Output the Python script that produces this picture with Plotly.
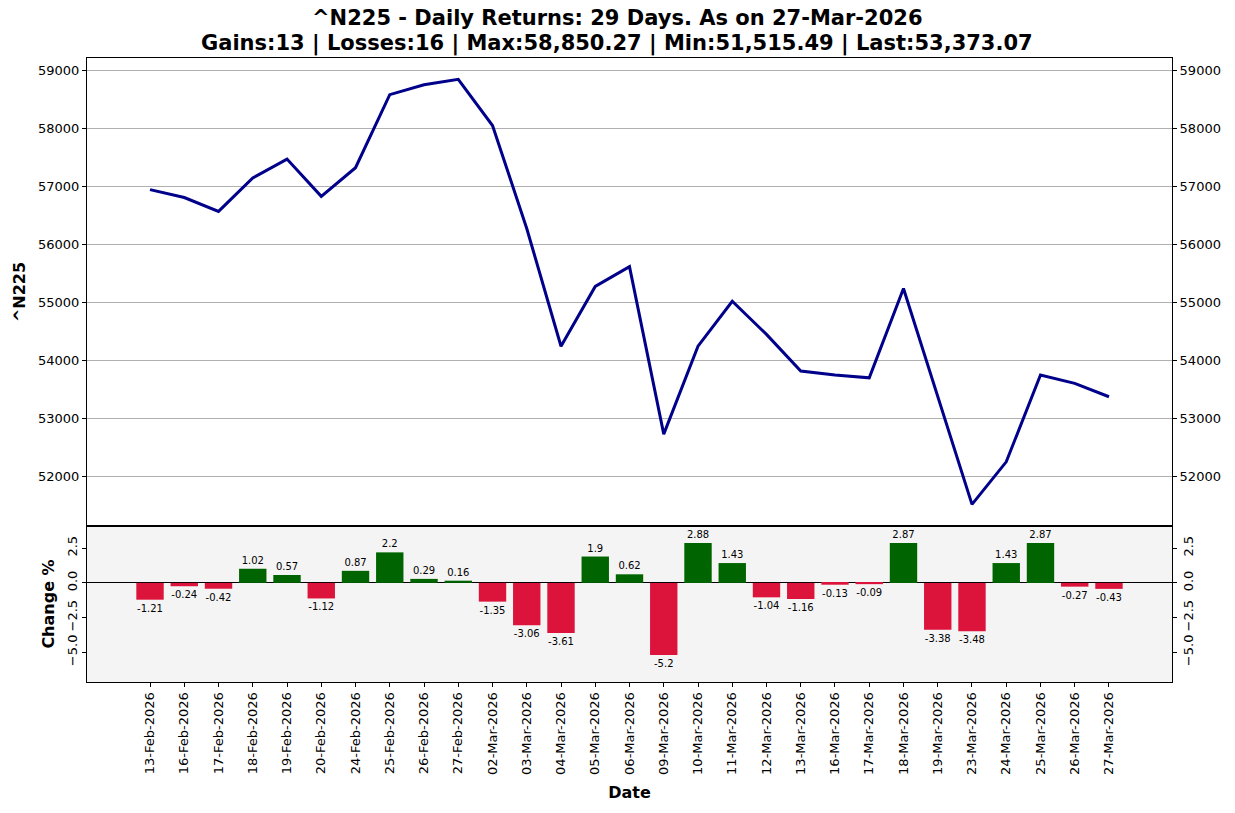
import plotly.graph_objects as go

dates = ["13-Feb-2026", "16-Feb-2026", "17-Feb-2026", "18-Feb-2026", "19-Feb-2026",
         "20-Feb-2026", "24-Feb-2026", "25-Feb-2026", "26-Feb-2026", "27-Feb-2026",
         "02-Mar-2026", "03-Mar-2026", "04-Mar-2026", "05-Mar-2026", "06-Mar-2026",
         "09-Mar-2026", "10-Mar-2026", "11-Mar-2026", "12-Mar-2026", "13-Mar-2026",
         "16-Mar-2026", "17-Mar-2026", "18-Mar-2026", "19-Mar-2026", "23-Mar-2026",
         "24-Mar-2026", "25-Mar-2026", "26-Mar-2026", "27-Mar-2026"]

close = [56947.2, 56810.5, 56571.9, 57148.9, 57474.6,
         56830.9, 57325.3, 58586.4, 58756.3, 58850.27,
         58053.3, 56277.0, 54245.0, 55276.0, 55619.0,
         52727.0, 54245.0, 55021.0, 54449.0, 53817.0,
         53747.0, 53699.0, 55240.0, 53373.0, 51515.49,
         52249.1, 53748.7, 53603.6, 53373.07]

change = [-1.21, -0.24, -0.42, 1.02, 0.57,
          -1.12, 0.87, 2.2, 0.29, 0.16,
          -1.35, -3.06, -3.61, 1.9, 0.62,
          -5.2, 2.88, 1.43, -1.04, -1.16,
          -0.13, -0.09, 2.87, -3.38, -3.48,
          1.43, 2.87, -0.27, -0.43]

title_lines = ["^N225 - Daily Returns: 29 Days. As on 27-Mar-2026",
               "Gains:13 | Losses:16 | Max:58,850.27 | Min:51,515.49 | Last:53,373.07"]

FONT = "DejaVu Sans"
bar_colors = ["#006400" if v >= 0 else "#DC143C" for v in change]

fig = go.Figure()

# price line (top panel)
fig.add_trace(go.Scatter(x=dates, y=close, mode="lines", xaxis="x2", yaxis="y",
                         line=dict(color="#00008B", width=3), showlegend=False))
# invisible copy so the right-hand axis is drawn
fig.add_trace(go.Scatter(x=dates, y=close, mode="lines", xaxis="x2", yaxis="y3",
                         opacity=0, hoverinfo="skip", showlegend=False))

# daily change bars (bottom panel)
fig.add_trace(go.Bar(x=dates, y=change, xaxis="x", yaxis="y2", width=0.8,
                     marker=dict(color=bar_colors, line=dict(width=0)),
                     text=[f"{v:g}" for v in change], textposition="outside",
                     textfont=dict(family=FONT, size=10, color="black"),
                     constraintext="none", cliponaxis=False, showlegend=False))
fig.add_trace(go.Bar(x=dates, y=change, xaxis="x", yaxis="y4", width=0.8,
                     opacity=0, hoverinfo="skip", showlegend=False))

tick_font = dict(family=FONT, size=13, color="black")
title_font = dict(family=FONT, size=16, color="black", weight="bold")
frame = dict(showline=True, linecolor="black", linewidth=1, mirror=True,
             ticks="outside", ticklen=4, tickcolor="black", tickfont=tick_font)

# two title lines, placed like the matplotlib suptitle
for text, ypos in zip(title_lines, [1.0641, 1.0240]):
    fig.add_annotation(text=text, xref="paper", yref="paper", x=0.4885, y=ypos,
                       xanchor="center", yanchor="middle", showarrow=False,
                       font=dict(family=FONT, size=21, color="black", weight="bold"))

fig.update_layout(
    template="none",
    width=1235, height=813,
    margin=dict(l=87, r=63, t=58, b=131),
    paper_bgcolor="white", plot_bgcolor="white",
    showlegend=False,
    barmode="overlay",
    xaxis=dict(domain=[0, 1], anchor="y2", type="category", range=[-1.84, 29.84],
               tickangle=-90, showgrid=False,
               title=dict(text="Date", font=title_font, standoff=12), **frame),
    xaxis2=dict(domain=[0, 1], anchor="y", matches="x", showticklabels=False,
                showgrid=False, showline=True, linecolor="black", mirror=True,
                ticks=""),
    yaxis=dict(domain=[0.25, 1], anchor="x2", range=[51142, 59219],
               tick0=0, dtick=1000, tickformat="d", showgrid=True,
               gridcolor="#b0b0b0", gridwidth=1, zeroline=False,
               title=dict(text="^N225", font=title_font, standoff=8), **frame),
    yaxis3=dict(overlaying="y", side="right", anchor="x2", range=[51142, 59219],
                tick0=0, dtick=1000, tickformat="d", showgrid=False, zeroline=False,
                ticks="outside", ticklen=4, tickcolor="black", tickfont=tick_font),
    yaxis2=dict(domain=[0, 0.25], anchor="x", range=[-7.14, 4.1],
                tickvals=[-5, -2.5, 0, 2.5], tickformat=".1f", tickangle=-90,
                showgrid=False, zeroline=True, zerolinecolor="black", zerolinewidth=1,
                title=dict(text="Change %", font=title_font, standoff=6), **frame),
    yaxis4=dict(overlaying="y2", side="right", anchor="x", range=[-7.14, 4.1],
                tickvals=[-5, -2.5, 0, 2.5], tickformat=".1f", tickangle=-90,
                showgrid=False, zeroline=False,
                ticks="outside", ticklen=4, tickcolor="black", tickfont=tick_font),
    shapes=[dict(type="rect", xref="x domain", yref="y2 domain", x0=0, x1=1, y0=0, y1=1,
                 fillcolor="#f4f4f4", line=dict(width=0), layer="below")],
)

# drop the default page margin so the figure sits at the window's corner
fig.write_html("out.html", config={"displayModeBar": False},
               post_script="document.body.style.margin='0';")
